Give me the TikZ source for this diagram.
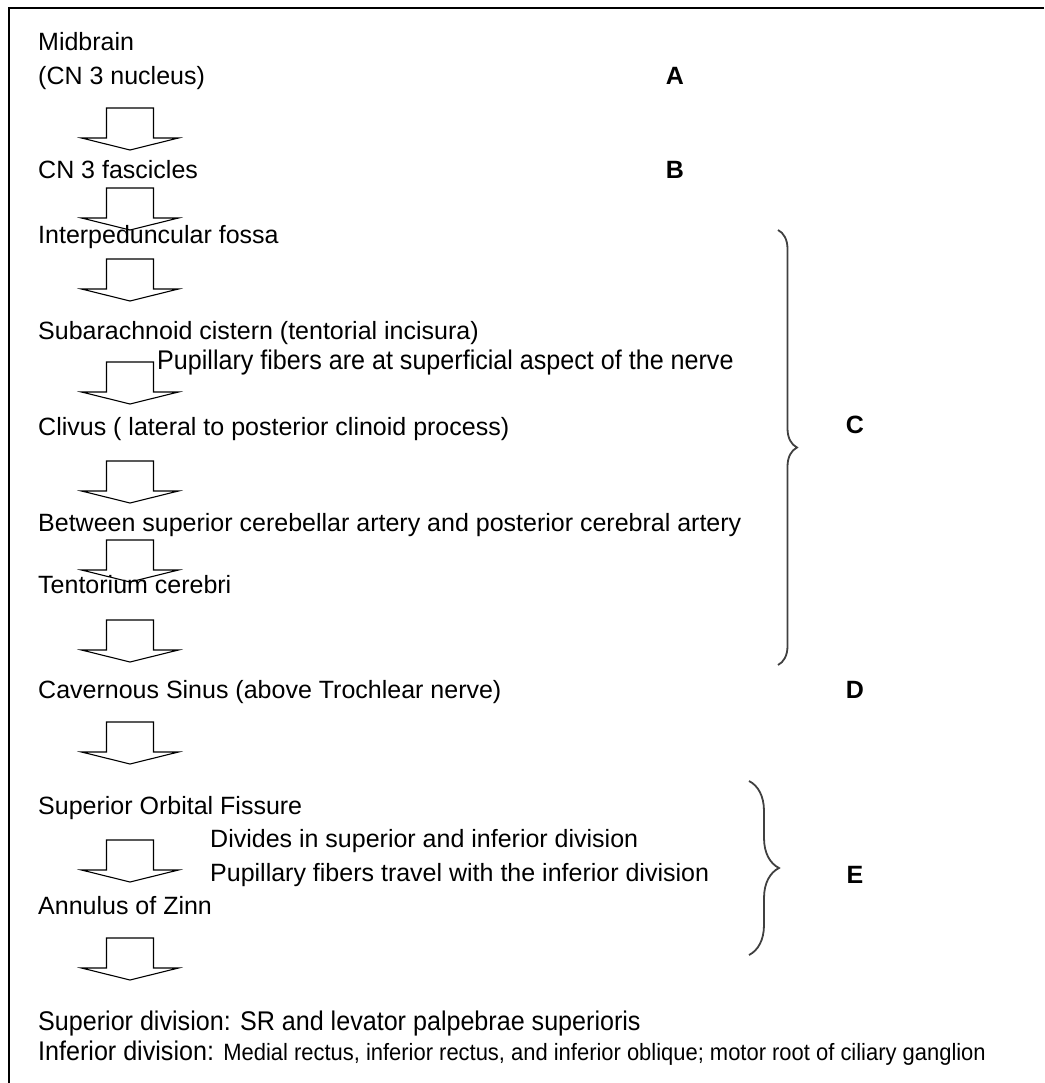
\documentclass[tikz,border=0pt]{standalone}
\usepackage{fontspec}
\setmainfont{Liberation Sans}
\usepackage{tikz}
\usetikzlibrary{decorations.pathreplacing}

\begin{document}
\begin{tikzpicture}[x=1pt, y=-1pt,
		txt/.style={anchor=mid west, inner sep=0pt, yshift=-6pt, font=\fontsize{25}{29}\selectfont},
		narrow/.style={anchor=mid west, inner sep=0pt, yshift=-6pt, font=\fontsize{27}{31}\selectfont, xscale=0.93},
		lbl/.style={inner sep=0pt, font=\fontsize{25}{29}\selectfont\bfseries},
		brc/.style={draw=black!75, line width=1.8pt, decorate, decoration={brace, amplitude=#1}},
		blockarrow/.pic={\draw[line width=1.1pt] (-23.5,0) -- (-23.5,30) -- (-48.5,30) -- (0,42) -- (48.5,30) -- (23.5,30) -- (23.5,0) -- cycle;}]
			\useasboundingbox (0,0) rectangle (1044,1083);
			% Frame:
			\draw[line width=2pt] (1044,8.5) -- (8.5,8.5) -- (8.5,1083);
			% Steps of the nerve:
			\node[txt] (mid) at (38,42) {Midbrain};
			\node[txt] (nuc) at (38,76) {(CN 3 nucleus)};
			\node[txt] (fasc) at (38,170) {CN 3 fascicles};
			\node[txt] (ipf) at (38,235) {Interpeduncular fossa};
			\node[txt] (sac) at (38,331) {Subarachnoid cistern (tentorial incisura)};
			\node[narrow] (pup1) at (157,361) {Pupillary fibers are at superficial aspect of the nerve};
			\node[txt] (cli) at (38,427) {Clivus ( lateral to posterior clinoid process)};
			\node[txt] (sca) at (38,523) {Between superior cerebellar artery and posterior cerebral artery};
			\node[txt] (tent) at (38,585) {Tentorium cerebri};
			\node[txt] (cav) at (38,690) {Cavernous Sinus (above Trochlear nerve)};
			\node[txt] (sof) at (38,806) {Superior Orbital Fissure};
			\node[txt] (div) at (210,839) {Divides in superior and inferior division};
			\node[txt] (pup2) at (210,873) {Pupillary fibers travel with the inferior division};
			\node[txt] (zinn) at (38,906) {Annulus of Zinn};
			\node[narrow] (supdiv) at (38,1022) {Superior division: SR and levator palpebrae superioris};
			\node[narrow] (infdiv) at (38,1052) {Inferior division: {\fontsize{23.6}{29}\selectfont Medial rectus, inferior rectus, and inferior oblique; motor root of ciliary ganglion}};
			% Block arrows:
			\foreach \t in {108, 188, 259, 362, 461, 540, 620, 722, 840, 938}
				\pic at (130,\t) {blockarrow};
			% Braces and letters:
			\coordinate (c1) at (778,230);
			\coordinate (c2) at (778,665);
			\coordinate (e1) at (749,781);
			\coordinate (e2) at (749,955);
			\draw[brc=19] (c1) -- (c2);
			\draw[brc=30] (e1) -- (e2);
			\node[lbl] (la) at (675,76) {A};
			\node[lbl] (lb) at (675,170) {B};
			\node[lbl] (lc) at (855,425) {C};
			\node[lbl] (ld) at (855,690) {D};
			\node[lbl] (le) at (855,875) {E};
		\end{tikzpicture}
\end{document}
